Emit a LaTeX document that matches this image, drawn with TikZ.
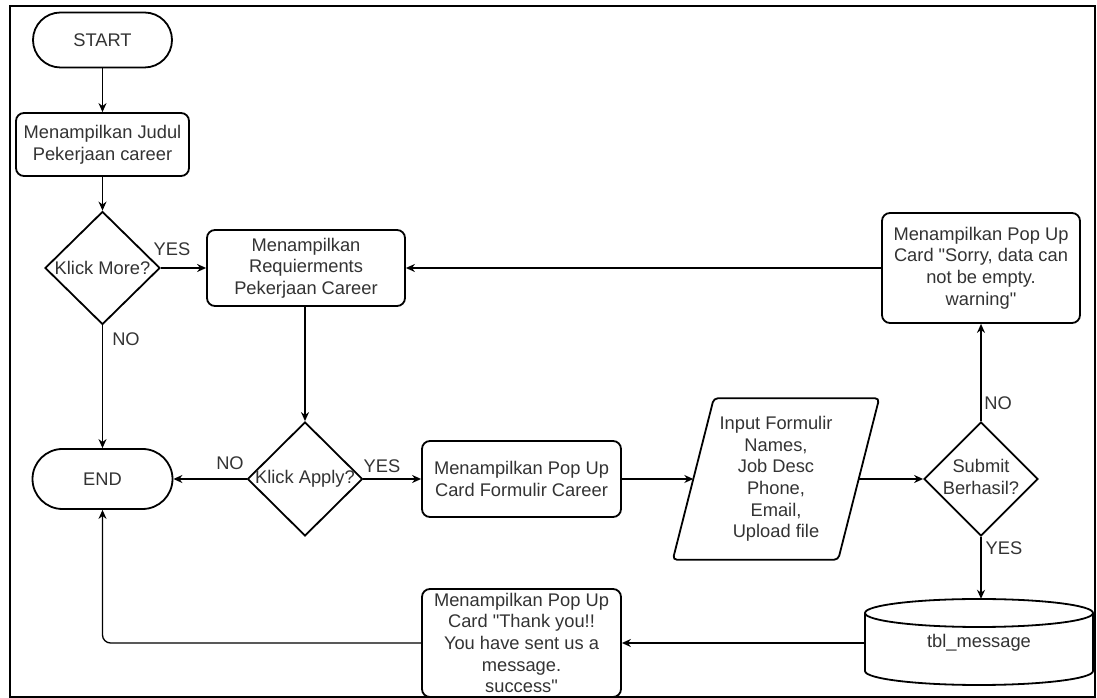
\documentclass[tikz,border=0pt]{standalone}
\usepackage{fontspec}
\setmainfont{Liberation Sans}[Ligatures=TeXOff]
\usetikzlibrary{arrows.meta,shapes.geometric}
\definecolor{txt}{HTML}{333333}
\begin{document}
\begin{tikzpicture}[x=1pt,y=1pt,
  every node/.style={font=\fontsize{18.3}{21.7}\selectfont, text=txt},
  shp/.style={draw=black, line width=1.8pt, fill=white},
  proc/.style={shp, rectangle, rounded corners=8pt, align=center, inner sep=0pt},
  term/.style={shp, rectangle, inner sep=0pt},
  dec/.style={shp, diamond, inner sep=0pt, aspect=1},
  flow/.style={draw=black, line width=1.3pt, -{Stealth[length=9pt,width=8pt]}},
  lbl/.style={inner sep=0pt}
]
\useasboundingbox (0,0) rectangle (1097,698);
\draw[line width=1.3pt] (10,1) rectangle (1095,692);

\node[term, rounded corners=27.5pt, minimum width=139pt, minimum height=55pt] (start) at (102.5,658) {START};
\node[proc, minimum width=173pt, minimum height=63pt] (judul) at (102.5,553.5) {Menampilkan Judul\\Pekerjaan career};
\node[dec, minimum width=115pt, minimum height=113pt] (more) at (102.5,430) {\makebox[0pt]{Klick More?}};
\node[proc, minimum width=198pt, minimum height=76pt] (req) at (306,430) {Menampilkan\\Requierments\\Pekerjaan Career};
\node[term, rounded corners=30pt, minimum width=140pt, minimum height=60pt] (end) at (102.5,219) {END};
\node[dec, minimum width=115pt, minimum height=114pt] (apply) at (305,219) {\makebox[0pt]{Klick Apply?}};
\node[proc, minimum width=199pt, minimum height=76pt] (form) at (521.5,219) {Menampilkan Pop Up\\Card Formulir Career};
\node[align=center, inner sep=0pt, minimum width=165pt, minimum height=161pt] (inp) at (776,219) {Input Formulir\\Names,\\Job Desc\\Phone,\\Email,\\Upload file};
\draw[shp, fill=none, rounded corners=4pt] ([xshift=20.5pt]inp.north west) -- ([xshift=20.5pt]inp.north east) -- ([xshift=-20.5pt]inp.south east) -- ([xshift=-20.5pt]inp.south west) -- cycle;
\node[dec, minimum width=114pt, minimum height=114pt] (sub) at (981,219) {\makebox[0pt]{\begin{tabular}{@{}c@{}}Submit\\Berhasil?\end{tabular}}};
\node[proc, minimum width=198pt, minimum height=110pt] (warn) at (981,430) {Menampilkan Pop Up\\Card "Sorry, data can\\not be empty.\\warning"};

\draw[shp] (865,85) -- (865,27) arc[start angle=180,end angle=360,x radius=114pt,y radius=14pt] -- (1093,85) arc[start angle=0,end angle=180,x radius=114pt,y radius=14pt] -- cycle;
\draw[shp, fill=none] (865,85) arc[start angle=180,end angle=360,x radius=114pt,y radius=14pt];
\node[inner sep=0pt, minimum width=228pt, minimum height=88pt] (db) at (979,55) {tbl\_message};

\node[proc, minimum width=199pt, minimum height=108pt] (succ) at (521.5,55) {Menampilkan Pop Up\\Card "Thank you!!\\You have sent us a\\message.\\success"};

\draw[flow] (start) -- (judul);
\draw[flow] (judul) -- (more);
\draw[flow] (more) -- (req);
\draw[flow] (more) -- (end);
\draw[flow] (req.south -| apply.north) -- (apply);
\draw[flow] (apply) -- (end);
\draw[flow] (apply) -- (form);
\draw[flow] (form) -- (inp);
\draw[flow] (inp) -- (sub);
\draw[flow] (sub) -- (warn);
\draw[flow] (warn) -- (req);
\draw[flow] (sub.south) -- (sub.south |- db.north);
\draw[flow] (db) -- (succ);
\draw[flow, rounded corners=8pt] (succ.west) -| (end.south);

\node[lbl] (l1) at (172,449) {YES};
\node[lbl] (l2) at (126,359) {NO};
\node[lbl] (l3) at (230,235) {NO};
\node[lbl] (l4) at (382,232) {YES};
\node[lbl] (l5) at (998,295) {NO};
\node[lbl] (l6) at (1004,150) {YES};
\end{tikzpicture}
\end{document}
